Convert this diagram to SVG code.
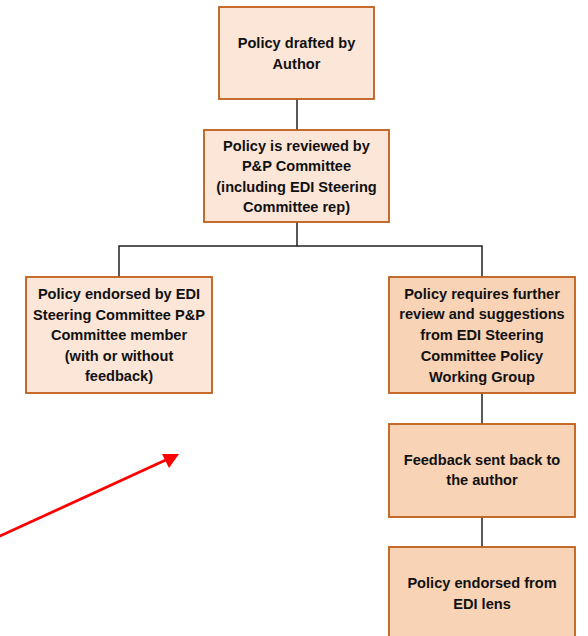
<svg xmlns="http://www.w3.org/2000/svg" width="588" height="636" viewBox="0 0 588 636">
<defs>
<style>
.box{stroke:#BF5E1A;stroke-width:1.8}
.light{fill:#FBE6D8}
.dark{fill:#F8D3B6}
.t{font-family:"Liberation Sans",Arial,sans-serif;font-weight:bold;font-size:14.6px;fill:#111;text-anchor:middle}
.c{stroke:#222;stroke-width:1.5;fill:none}
</style>
</defs>
<rect width="588" height="636" fill="#fff"/>
<g id="connectors">
<line class="c" x1="297" y1="99" x2="297" y2="130"/>
<polyline class="c" points="297,222 297,246 119,246 119,277"/>
<polyline class="c" points="297,246 482,246 482,277"/>
<line class="c" x1="482" y1="393" x2="482" y2="424"/>
<line class="c" x1="482" y1="517" x2="482" y2="547"/>
</g>
<g id="n1">
<rect class="box light" x="219" y="7" width="155" height="92"/>
<text class="t" x="296.5" y="48">Policy drafted by</text>
<text class="t" x="296.5" y="68.5">Author</text>
</g>
<g id="n2">
<rect class="box light" x="204" y="130" width="185" height="92"/>
<text class="t" x="296.5" y="150.5">Policy is reviewed by</text>
<text class="t" x="296.5" y="171">P&amp;P Committee</text>
<text class="t" x="296.5" y="191.5">(including EDI Steering</text>
<text class="t" x="296.5" y="212">Committee rep)</text>
</g>
<g id="n3">
<rect class="box light" x="26" y="277" width="186" height="116"/>
<text class="t" x="119" y="298.5">Policy endorsed by EDI</text>
<text class="t" x="119" y="319.5">Steering Committee P&amp;P</text>
<text class="t" x="119" y="340">Committee member</text>
<text class="t" x="119" y="360.5">(with or without</text>
<text class="t" x="119" y="380.5">feedback)</text>
</g>
<g id="n4">
<rect class="box dark" x="389" y="277" width="186" height="116"/>
<text class="t" x="482" y="298.5">Policy requires further</text>
<text class="t" x="482" y="319">review and suggestions</text>
<text class="t" x="482" y="340">from EDI Steering</text>
<text class="t" x="482" y="361">Committee Policy</text>
<text class="t" x="482" y="381.5">Working Group</text>
</g>
<g id="n5">
<rect class="box dark" x="389" y="424" width="186" height="93"/>
<text class="t" x="482" y="464.5">Feedback sent back to</text>
<text class="t" x="482" y="485">the author</text>
</g>
<g id="n6">
<rect class="box dark" x="389" y="547" width="186" height="95"/>
<text class="t" x="482" y="588">Policy endorsed from</text>
<text class="t" x="482" y="608.5">EDI lens</text>
</g>
<g id="red-arrow">
<line x1="-2" y1="537" x2="169" y2="458.5" stroke="#FF0000" stroke-width="2.8"/>
<polygon points="179,454 162,454 169,468" fill="#FF0000"/>
</g>
</svg>
